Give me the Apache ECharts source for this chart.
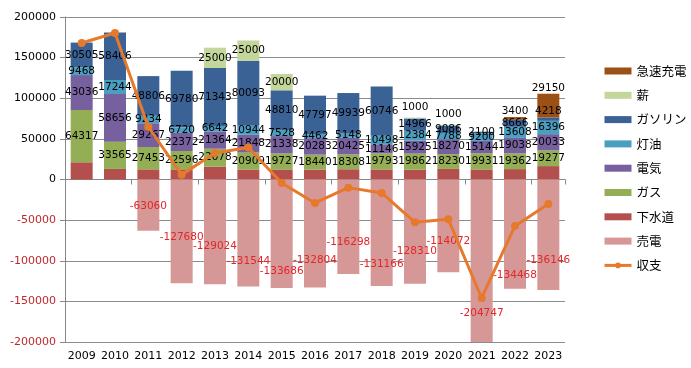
<!DOCTYPE html>
<html><head><meta charset="utf-8">
<script src="https://cdn.jsdelivr.net/npm/echarts@6/dist/echarts.min.js"></script>
<style>html,body{margin:0;padding:0;background:#fff}#c{width:691px;height:368px}</style>
</head><body><div id="c"></div>
<script>
const years = ['2009','2010','2011','2012','2013','2014','2015','2016','2017','2018','2019','2020','2021','2022','2023'];
const sewer    = [21200,13000,12500,12500,15800,12300,12400,12200,12600,12400,12000,13000,12400,12800,16500];
const gas      = [64317,33565,27453,22596,22078,20909,19727,18440,18308,19793,19862,18230,19931,19362,19277];
const elec     = [43036,58656,29267,22372,21364,21848,21338,20283,20425,11146,15925,18270,15144,19038,20033];
const kerosene = [9468,17244,9234,6720,6642,10944,7528,4462,5148,10498,12384,7788,9200,13608,16396];
const gasoline = [30505,58406,48806,69780,71343,80093,48810,47797,49939,60746,14966,9086,2100,8666,4218];
const wood     = [null,null,null,null,25000,25000,20000,null,null,null,1000,1000,null,null,null];
const charge   = [null,null,null,null,null,null,null,null,null,null,null,null,null,3400,29150];
const sell     = [null,null,-63060,-127680,-129024,-131544,-133686,-132804,-116298,-131166,-128310,-114072,-204747,-134468,-136146];
const balance  = [168000,180300,64600,6000,32600,39300,-4300,-28900,-10000,-16600,-52700,-49000,-145800,-57200,-30100];
const legendOrder = ['急速充電','薪','ガソリン','灯油','電気','ガス','下水道','売電','収支'];

// label nudges (styling only, pixels)
const sellLabelDy = [0,0,1,6,14,28,37,27,16,31,20,15,53,41,25];
const gasolineLabelDy = [0,0,0,0,0,0,0,0,0,0,0,0,0,0,-8];

const FONT = 'DejaVu Sans';
const LINE_COLOR = '#E6792B';
const lbl = {show:true, position:'inside', color:'#000', fontFamily:FONT, fontSize:10.5};

function items(arr, fn){ return arr.map((v,i)=> v==null ? null : Object.assign({value:v}, fn? fn(v,i):{})); }

const stack = [
  {name:'下水道', data:sewer, color:'#B3504E', label:{show:false}},
  {name:'ガス', data:gas, color:'#93AE55', label:lbl},
  {name:'電気', data:elec, color:'#76609E', label:lbl},
  {name:'灯油', data:kerosene, color:'#4A9EBF', label:lbl},
  {name:'ガソリン', data:items(gasoline,(v,i)=>gasolineLabelDy[i]?{label:{offset:[0,gasolineLabelDy[i]]}}:{}), color:'#3B6295', label:lbl},
  {name:'薪', data:items(wood,(v)=> v<5000?{label:{position:'top',distance:5}}:{}), color:'#C3D69B', label:lbl},
  {name:'急速充電', data:charge, color:'#9B5015', label:Object.assign({},lbl,{position:'top',distance:0})},
  {name:'売電', data:items(sell,(v,i)=>({label:{offset:[0,sellLabelDy[i]]}})), color:'#D69896',
    label:Object.assign({},lbl,{color:'#E3262A'})}
];

const series = stack.map(s=>({
  type:'bar', name:s.name, stack:'all', data:s.data, barWidth:'66%',
  itemStyle:{color:s.color}, label:s.label, xAxisIndex:0
}));
series.push({
  type:'line', name:'収支', data:balance, xAxisIndex:0, z:10,
  symbol:'circle', symbolSize:8, lineStyle:{width:3,color:LINE_COLOR},
  itemStyle:{color:LINE_COLOR}, label:{show:false}
});

const chart = echarts.init(document.getElementById('c'), null, {renderer:'canvas'});
chart.setOption({
  animation:false,
  grid:{left:65, right:126, top:17, bottom:26, containLabel:false},
  legend:{
    orient:'vertical', left:603, top:64, padding:0, itemWidth:27, itemHeight:7, itemGap:10.3,
    data: legendOrder.map(n => n==='収支' ? {name:n, lineStyle:{width:3}} : {name:n, icon:'rect'}),
    textStyle:{fontFamily:'Noto Sans CJK JP', fontSize:12.5, color:'#000', lineHeight:14}
  },
  xAxis:[
    {type:'category', data:years, position:'bottom',
     axisLine:{show:false, onZero:false}, axisTick:{show:false},
     axisLabel:{interval:0, color:'#000', fontFamily:FONT, fontSize:11, margin:9}},
    {type:'category', data:years, position:'bottom',
     axisLine:{show:true, onZero:true, lineStyle:{color:'#888', width:1}},
     axisTick:{show:true, length:5, lineStyle:{color:'#888'}},
     axisLabel:{show:false}}
  ],
  yAxis:{
    type:'value', min:-200000, max:200000, interval:50000,
    axisLine:{show:true, lineStyle:{color:'#888'}},
    axisTick:{show:true, length:5, lineStyle:{color:'#888'}},
    splitLine:{lineStyle:{color:'#8c8c8c', width:1}},
    axisLabel:{fontFamily:FONT, fontSize:11, margin:9, formatter:(v)=>String(v),
      color:(v)=> (Number(v)<0 ? '#C0282B' : '#000')}
  },
  series:series
});
</script></body></html>
